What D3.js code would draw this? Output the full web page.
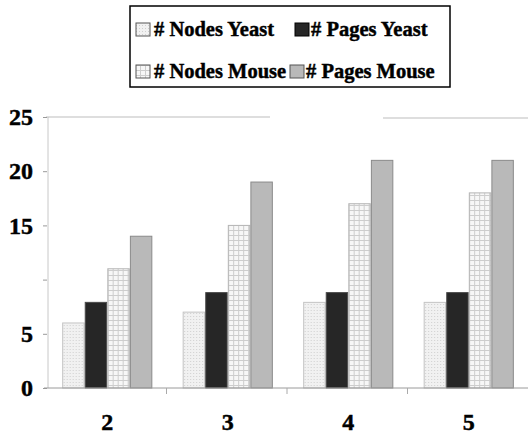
<!DOCTYPE html>
<html>
<head>
<meta charset="utf-8">
<script src="https://cdn.jsdelivr.net/npm/d3@7"></script>
<style>
  html, body { margin: 0; padding: 0; background: #fff; }
  svg { display: block; }
  text { font-family: "Liberation Serif", "Times New Roman", serif; font-weight: bold; fill: #000; stroke: #000; stroke-width: 0.45px; }
</style>
</head>
<body>
<svg id="chart" width="528" height="441"></svg>
<script>
// Depth levels on the x axis
const categories = ["2", "3", "4", "5"];
const seriesNames = ["# Nodes Yeast", "# Pages Yeast", "# Nodes Mouse", "# Pages Mouse"];
const nodesYeast = [6, 7, 7.9, 7.9];
const pagesYeast = [7.9, 8.8, 8.8, 8.8];
const nodesMouse = [11, 15, 17, 18];
const pagesMouse = [14, 19, 21, 21];
const yTicks = [0, 5, 10, 15, 20, 25];
const yTickLabels = ["0", "5", "", "15", "20", "25"];

const seriesValues = [nodesYeast, pagesYeast, nodesMouse, pagesMouse];

const svg = d3.select("#chart");
const defs = svg.append("defs");

// Fill patterns for the four series
const dots = defs.append("pattern").attr("id", "pDots")
  .attr("width", 3).attr("height", 3).attr("patternUnits", "userSpaceOnUse");
dots.append("rect").attr("width", 3).attr("height", 3).attr("fill", "#f1f1f1");
dots.append("rect").attr("x", 1).attr("y", 1).attr("width", 1).attr("height", 1).attr("fill", "#cfcfcf");

const grid = defs.append("pattern").attr("id", "pGrid")
  .attr("width", 5).attr("height", 5).attr("patternUnits", "userSpaceOnUse");
grid.append("rect").attr("width", 5).attr("height", 5).attr("fill", "#f7f7f7");
grid.append("rect").attr("x", 0).attr("y", 0).attr("width", 5).attr("height", 1).attr("fill", "#cdcdcd");
grid.append("rect").attr("x", 0).attr("y", 0).attr("width", 1).attr("height", 5).attr("fill", "#cdcdcd");

const fills = ["url(#pDots)", "#262626", "url(#pGrid)", "#b9b9b9"];
const strokes = ["#c4c4c4", "#4a4a4a", "#b5b5b5", "#8a8a8a"];

// Scales
const y = d3.scaleLinear().domain([0, 25]).range([388, 117]);
const x0 = d3.scaleBand().domain(categories).range([47, 529])
  .paddingInner(0.26).paddingOuter(0.13);
const x1 = d3.scaleBand().domain(d3.range(seriesNames.length))
  .range([0, x0.bandwidth()]).paddingInner(0.05);

// Frame: y axis line, top border, baseline
svg.append("line").attr("x1", 48).attr("x2", 48)
  .attr("y1", y(25)).attr("y2", y(0))
  .attr("stroke", "#c8c8c8").attr("stroke-width", 1);
svg.append("line").attr("x1", 46).attr("x2", 270)
  .attr("y1", y(25)).attr("y2", y(25))
  .attr("stroke", "#bdbdbd").attr("stroke-width", 1);
svg.append("line").attr("x1", 383).attr("x2", 528)
  .attr("y1", y(25) + 1).attr("y2", y(25) + 1)
  .attr("stroke", "#bdbdbd").attr("stroke-width", 1);

// Y axis
const yAxis = d3.axisLeft(y).tickValues(yTicks)
  .tickFormat((d, i) => yTickLabels[i]).tickSize(4).tickPadding(10);
const gy = svg.append("g").attr("transform", "translate(47,0)").call(yAxis);
gy.select(".domain").remove();
gy.selectAll(".tick line").attr("stroke", "#999");
gy.selectAll(".tick text")
  .style("font-family", '"Liberation Serif", serif')
  .style("font-weight", "bold")
  .style("font-size", "24px")
  .attr("fill", "#000");

// Bars
const groups = svg.append("g").selectAll("g")
  .data(categories).join("g")
  .attr("transform", d => `translate(${x0(d)},0)`);

groups.selectAll("rect")
  .data((d, ci) => seriesValues.map((vals, si) => ({ si, v: vals[ci] })))
  .join("rect")
  .attr("x", d => x1(d.si))
  .attr("width", x1.bandwidth())
  .attr("y", d => y(d.v))
  .attr("height", d => y(0) - y(d.v))
  .attr("fill", d => fills[d.si])
  .attr("stroke", d => strokes[d.si])
  .attr("stroke-width", 1);

// X axis baseline with separators between categories
const xAxisScale = d3.scaleBand().domain(categories).range([47, 529]);
svg.append("line").attr("x1", 44).attr("x2", 528)
  .attr("y1", y(0)).attr("y2", y(0))
  .attr("stroke", "#9a9a9a").attr("stroke-width", 1);
svg.append("g").selectAll("line")
  .data(categories.slice(1)).join("line")
  .attr("x1", d => xAxisScale(d) - 1).attr("x2", d => xAxisScale(d) - 1)
  .attr("y1", y(0)).attr("y2", y(0) + 6)
  .attr("stroke", "#aaa");

svg.append("g").selectAll("text")
  .data(categories).join("text")
  .attr("x", d => x0(d) + x0.bandwidth() / 2)
  .attr("y", 430)
  .attr("text-anchor", "middle")
  .style("font-size", "24px")
  .text(d => d);

// Legend
const legend = svg.append("g");
legend.append("rect").attr("x", 130).attr("y", 6).attr("width", 320).attr("height", 81)
  .attr("fill", "#fff").attr("stroke", "#000").attr("stroke-width", 1.5);
const legendPos = [
  { sx: 136, tx: 154, by: 36 },
  { sx: 295, tx: 311, by: 36 },
  { sx: 136, tx: 154, by: 78 },
  { sx: 290, tx: 306, by: 78 }
];
seriesNames.forEach((name, i) => {
  const p = legendPos[i];
  legend.append("rect").attr("x", p.sx).attr("y", p.by - 13).attr("width", 14).attr("height", 13)
    .attr("fill", fills[i]).attr("stroke", i === 1 ? "#000" : "#555").attr("stroke-width", 1);
  legend.append("text").attr("x", p.tx).attr("y", p.by)
    .style("font-size", "20.5px").text(name);
});
</script>
</body>
</html>
